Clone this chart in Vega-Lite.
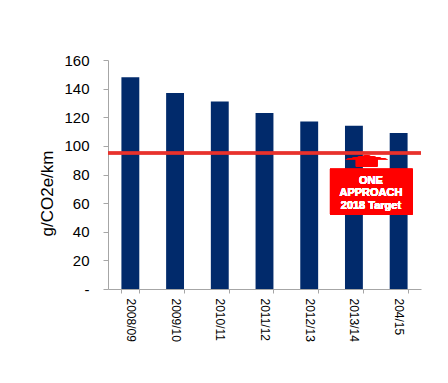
{
  "$schema": "https://vega.github.io/schema/vega-lite/v6.json",
  "width": 313,
  "height": 229,
  "autosize": {"type": "none"},
  "padding": {"left": 108, "top": 60, "right": 27, "bottom": 94},
  "background": "white",
  "config": {
    "view": {"stroke": null},
    "font": "Liberation Sans",
    "axisY": {
      "titleFontSize": 17,
      "titleFontWeight": "normal",
      "titleColor": "#000000",
      "titleAngle": -90,
      "titleAlign": "center",
      "titleBaseline": "middle",
      "titleX": -61,
      "titleY": 133,
      "labelOverlap": false,
      "labelFontSize": 15,
      "labelColor": "#000000",
      "labelPadding": 14,
      "tickSize": 5,
      "tickColor": "#A6A6A6",
      "domainColor": "#A6A6A6",
      "grid": false
    }
  },
  "data": {
    "values": [
      {"year": "2008/09", "value": 148},
      {"year": "2009/10", "value": 137},
      {"year": "2010/11", "value": 131},
      {"year": "2011/12", "value": 123},
      {"year": "2012/13", "value": 117},
      {"year": "2013/14", "value": 114},
      {"year": "204/15", "value": 109}
    ]
  },
  "layer": [
    {
      "mark": {"type": "bar", "color": "#012A6B"},
      "encoding": {
        "x": {
          "field": "year",
          "type": "nominal",
          "sort": null,
          "scale": {"paddingInner": 0.6, "paddingOuter": 0.3},
          "axis": {
            "title": null,
            "labelAngle": 90,
            "labelAlign": "left",
            "labelBaseline": "middle",
            "labelFontSize": 12,
            "labelColor": "#000000",
            "labelPadding": 5,
            "tickSize": 4,
            "tickBand": "extent",
            "tickColor": "#A6A6A6",
            "domainColor": "#A6A6A6",
            "grid": false
          }
        },
        "y": {
          "field": "value",
          "type": "quantitative",
          "scale": {"domain": [0, 160], "nice": false},
          "axis": {
            "title": "g/CO2e/km",
            "values": [0, 20, 40, 60, 80, 100, 120, 140, 160],
            "labelExpr": "datum.value == 0 ? '-\u00a0\u00a0' : datum.label"
          }
        }
      }
    },
    {
      "mark": {"type": "rule", "color": "#E8322C", "strokeWidth": 2.5},
      "encoding": {"y": {"datum": 95, "axis": {"title": "g/CO2e/km", "values": [0, 20, 40, 60, 80, 100, 120, 140, 160], "labelExpr": "datum.value == 0 ? '-\u00a0\u00a0' : datum.label"}}}
    },
    {
      "mark": {"type": "point", "filled": true, "fill": "#FF0000", "strokeWidth": 0, "opacity": 1, "size": 1850,
        "shape": "M0,-0.26L1,-0.08L0.5,-0.08L0.5,0.26L-0.5,0.26L-0.5,-0.08L-1,-0.08Z"},
      "encoding": {
        "x": {"datum": "2013/14", "bandPosition": 1.21},
        "y": {"datum": 89.5, "axis": {"title": "g/CO2e/km", "values": [0, 20, 40, 60, 80, 100, 120, 140, 160], "labelExpr": "datum.value == 0 ? '-\u00a0\u00a0' : datum.label"}}
      }
    },
    {
      "mark": {"type": "rect", "color": "#FF0000"},
      "encoding": {
        "x": {"datum": "2013/14", "bandPosition": -0.84},
        "x2": {"datum": "204/15", "bandPosition": 1.28},
        "y": {"datum": 84, "axis": {"title": "g/CO2e/km", "values": [0, 20, 40, 60, 80, 100, 120, 140, 160], "labelExpr": "datum.value == 0 ? '-\u00a0\u00a0' : datum.label"}},
        "y2": {"datum": 52}
      }
    },
    {
      "mark": {"type": "text", "color": "white", "fontWeight": "bold", "fontSize": 11, "lineHeight": 12.5, "align": "center", "baseline": "top"},
      "encoding": {
        "x": {"datum": "2013/14", "bandPosition": 1.45},
        "y": {"datum": 80, "axis": {"title": "g/CO2e/km", "values": [0, 20, 40, 60, 80, 100, 120, 140, 160], "labelExpr": "datum.value == 0 ? '-\u00a0\u00a0' : datum.label"}},
        "text": {"value": ["ONE", "APPROACH", "2018 Target"]}
      }
    }
  ]
}
